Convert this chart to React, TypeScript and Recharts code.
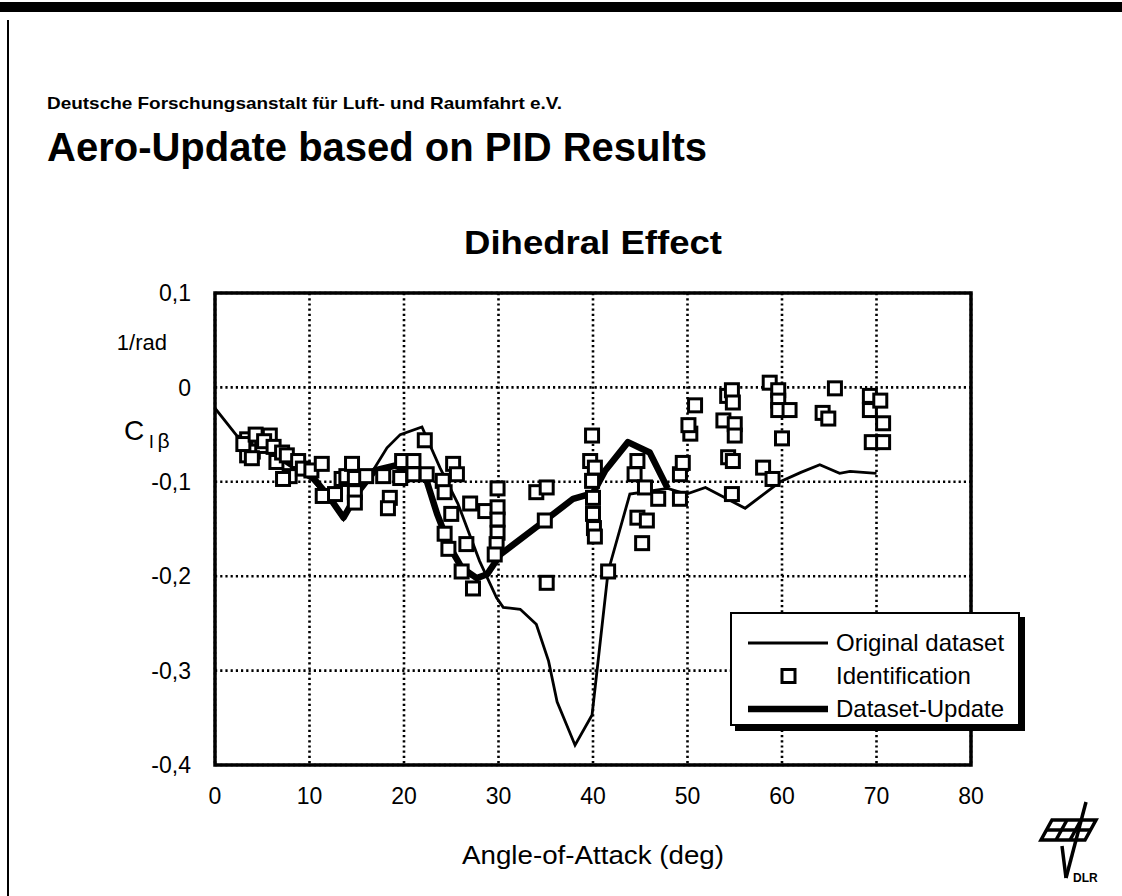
import React from "react";
import {
  ComposedChart,
  Line,
  Scatter,
  XAxis,
  YAxis,
  CartesianGrid,
  ReferenceArea,
  Legend,
} from "recharts";

const xTicks = [0, 10, 20, 30, 40, 50, 60, 70, 80];
const yTicks = [0.1, 0, -0.1, -0.2, -0.3, -0.4];

// original dataset (thin line)
const origAlpha = [
  0, 2.3, 4, 6, 8, 10, 12, 13.6, 15.2, 16.9, 18.2, 19.6, 21.9, 23.8, 25.7, 28,
  29.8, 30.5, 32.3, 34, 35.3, 36.2, 38.1, 39.9, 41.6, 43.9, 47.9, 49.9, 51.9,
  56.1, 59.8, 62, 64, 66.1, 67.2, 70,
];
const origClb = [
  -0.022, -0.051, -0.058, -0.068, -0.082, -0.095, -0.117, -0.14, -0.112,
  -0.085, -0.064, -0.05, -0.042, -0.085, -0.123, -0.184, -0.223, -0.233,
  -0.235, -0.251, -0.29, -0.333, -0.379, -0.347, -0.195, -0.113, -0.107,
  -0.113, -0.106, -0.128, -0.1, -0.09, -0.082, -0.091, -0.089, -0.091,
];

// dataset update (thick line)
const updAlpha = [
  3, 4.5, 6, 7.5, 9, 10.5, 12, 13.6, 15.2, 16.9, 19, 20.5, 22.4, 23.5, 24.9,
  26.1, 27.7, 28.8, 30.2, 34.4, 37.9, 40, 41.3, 43.7, 46, 47.9,
];
const updClb = [
  -0.055, -0.062, -0.068, -0.078, -0.088, -0.097, -0.115, -0.138, -0.11,
  -0.088, -0.083, -0.087, -0.099, -0.134, -0.17, -0.191, -0.202, -0.198,
  -0.177, -0.145, -0.118, -0.112, -0.088, -0.058, -0.069, -0.107,
];

// identification results (squares)
const idAlpha = [
  3.4, 3.7, 3.4, 4.6, 5.8, 4.0, 5.0, 3.0, 4.3, 5.2, 6.2, 3.9, 6.5, 7.1, 7.6,
  8.8, 7.9, 7.2, 9.3, 10.2, 11.3, 11.4, 12.7, 13.4, 13.9, 14.5, 14.8, 14.8,
  14.8, 16.0, 17.8, 18.5, 18.3, 19.6, 19.8, 21.0, 21.0, 22.4, 22.2, 24.1, 25.2,
  25.6, 24.3, 25.0, 24.3, 24.7, 26.1, 27.3, 27.0, 28.6, 26.6, 29.9, 29.9, 29.9,
  29.9, 29.8, 29.6, 34.0, 35.1, 34.9, 35.1, 39.9, 39.7, 40.2, 39.9, 40.0, 40.0,
  40.1, 40.2, 41.6, 44.7, 44.4, 45.5, 46.9, 44.7, 45.7, 45.2, 49.2, 49.2, 49.5,
  50.3, 50.1, 50.8, 54.7, 54.2, 54.7, 54.8, 53.8, 55.0, 55.0, 54.3, 54.8, 58.0,
  59.0, 58.7, 59.6, 59.6, 59.6, 60.8, 60.0, 65.6, 64.3, 64.9, 69.3, 69.3, 70.4,
  70.7, 69.5, 70.7,
];
const idClb = [
  -0.055, -0.064, -0.072, -0.058, -0.051, -0.068, -0.062, -0.06, -0.05,
  -0.057, -0.063, -0.075, -0.079, -0.069, -0.072, -0.078, -0.094, -0.097,
  -0.086, -0.088, -0.081, -0.115, -0.113, -0.097, -0.094, -0.081, -0.096,
  -0.111, -0.122, -0.094, -0.094, -0.117, -0.128, -0.096, -0.078, -0.078,
  -0.092, -0.092, -0.056, -0.099, -0.081, -0.092, -0.111, -0.134, -0.155,
  -0.171, -0.195, -0.213, -0.123, -0.131, -0.166, -0.107, -0.127, -0.14,
  -0.154, -0.166, -0.177, -0.111, -0.106, -0.141, -0.207, -0.051, -0.078,
  -0.085, -0.099, -0.117, -0.134, -0.149, -0.158, -0.195, -0.078, -0.092,
  -0.106, -0.118, -0.138, -0.141, -0.165, -0.118, -0.092, -0.08, -0.049,
  -0.04, -0.019, -0.113, -0.009, -0.003, -0.016, -0.035, -0.039, -0.051,
  -0.074, -0.078, -0.085, -0.097, 0.005, -0.003, -0.014, -0.024, -0.024,
  -0.054, -0.001, -0.027, -0.033, -0.009, -0.024, -0.014, -0.038, -0.058,
  -0.058,
];

const FONT = '"Liberation Sans", Arial, Helvetica, sans-serif';

const toPoints = (xs: number[], ys: number[]) =>
  xs.map((x, i) => ({ x, y: ys[i] }));

const origData = toPoints(origAlpha, origClb);
const updData = toPoints(updAlpha, updClb);
const idData = toPoints(idAlpha, idClb);

const SquareMark = (props: any) => {
  const { cx, cy } = props;
  if (cx == null || cy == null) return null;
  return (
    <rect
      x={cx - 6.5}
      y={cy - 6.5}
      width={13}
      height={13}
      fill="#fff"
      stroke="#000"
      strokeWidth={3}
    />
  );
};

const legendRows = [
  { label: "Original dataset", kind: "thin" },
  { label: "Identification", kind: "square" },
  { label: "Dataset-Update", kind: "thick" },
];

const LegendBox = () => (
  <div
    style={{
      boxSizing: "border-box",
      width: 290,
      height: 114,
      border: "2px solid #000",
      boxShadow: "5px 5px 0 #000",
      background: "#fff",
      fontFamily: FONT,
      fontSize: 24,
      color: "#000",
      paddingTop: 12,
    }}
  >
    {legendRows.map((r) => (
      <div
        key={r.label}
        style={{ display: "flex", alignItems: "center", height: 33 }}
      >
        <svg width={104} height={20}>
          {r.kind === "square" ? (
            <rect x={50} y={3.5} width={13} height={13} fill="#fff" stroke="#000" strokeWidth={3} />
          ) : (
            <line
              x1={16}
              x2={96}
              y1={10}
              y2={10}
              stroke="#000"
              strokeWidth={r.kind === "thick" ? 6.5 : 2.8}
            />
          )}
        </svg>
        <span style={{ lineHeight: 1 }}>{r.label}</span>
      </div>
    ))}
  </div>
);

const fmt = (v: number) => String(v).replace(".", ",");

export default function App() {
  return (
    <div
      style={{
        position: "absolute",
        left: 0,
        top: 0,
        width: 1122,
        height: 896,
        background: "#fff",
        overflow: "hidden",
      }}
    >
      <svg
        width={1122}
        height={896}
        style={{ position: "absolute", left: 0, top: 0 }}
        fontFamily={FONT}
      >
        <rect x={0} y={2} width={1122} height={10} fill="#000" />
        <rect x={7} y={20} width={2} height={876} fill="#000" />
        <text x={47} y={109} fontSize={17} fontWeight="bold" textLength={515} lengthAdjust="spacingAndGlyphs">
          Deutsche Forschungsanstalt für Luft- und Raumfahrt e.V.
        </text>
        <text x={47} y={161} fontSize={40} fontWeight="bold">
          Aero-Update based on PID Results
        </text>
        <text x={593} y={254} fontSize={34} fontWeight="bold" textAnchor="middle" textLength={258} lengthAdjust="spacingAndGlyphs">
          Dihedral Effect
        </text>
        <text x={593} y={864} fontSize={26} textAnchor="middle" textLength={262} lengthAdjust="spacingAndGlyphs">
          Angle-of-Attack (deg)
        </text>
        <text x={167} y={350} fontSize={22} textAnchor="end">
          1/rad
        </text>
        <text x={124} y={440} fontSize={28}>
          C
          <tspan fontSize={19} dx={5} dy={8}>l</tspan>
          <tspan fontSize={21} dx={4}>β</tspan>
        </text>
        {/* DLR logo */}
        <g stroke="#000" strokeWidth={3.5} fill="none">
          <polygon points="1052,820 1096,820 1085,840 1041,840" />
          <line x1={1067} y1={820} x2={1056} y2={840} />
          <line x1={1081} y1={820} x2={1070} y2={840} />
          <line x1={1046} y1={830} x2={1091} y2={830} />
          <line x1={1086} y1={802} x2={1066} y2={878} />
          <line x1={1066} y1={878} x2={1062} y2={846} />
        </g>
        <text x={1073} y={882} fontSize={12} fontWeight="bold">
          DLR
        </text>
      </svg>
      <div style={{ position: "absolute", left: 0, top: 0 }}>
        <ComposedChart
          width={1122}
          height={896}
          margin={{ top: 293, right: 151, bottom: 91, left: 135 }}
        >
          <CartesianGrid stroke="#000" strokeWidth={2.6} strokeDasharray="2.2 3" />
          <XAxis
            type="number"
            dataKey="x"
            domain={[0, 80]}
            ticks={xTicks}
            interval={0}
            allowDataOverflow
            axisLine={false}
            tickLine={false}
            tickSize={0}
            tickMargin={23}
            height={40}
            tick={{ fill: "#000", fontSize: 23, fontFamily: FONT }}
          />
          <YAxis
            type="number"
            dataKey="y"
            domain={[-0.4, 0.1]}
            ticks={yTicks}
            interval={0}
            allowDataOverflow
            axisLine={false}
            tickLine={false}
            tickSize={0}
            tickMargin={24}
            width={80}
            tickFormatter={fmt}
            tick={{ fill: "#000", fontSize: 23, fontFamily: FONT }}
          />
          <Line
            data={updData}
            dataKey="y"
            name="Dataset-Update"
            type="linear"
            stroke="#000"
            strokeWidth={6.5}
            strokeLinejoin="round"
            dot={false}
            activeDot={false}
            isAnimationActive={false}
          />
          <Line
            data={origData}
            dataKey="y"
            name="Original dataset"
            type="linear"
            stroke="#000"
            strokeWidth={2.8}
            dot={false}
            activeDot={false}
            isAnimationActive={false}
          />
          <Scatter
            data={idData}
            dataKey="y"
            name="Identification"
            shape={SquareMark}
            isAnimationActive={false}
          />
          <ReferenceArea
            x1={0}
            x2={80}
            y1={-0.4}
            y2={0.1}
            fill="none"
            fillOpacity={0}
            stroke="#000"
            strokeWidth={3.5}
          />
          <Legend
            layout="horizontal"
            verticalAlign="middle"
            align="center"
            wrapperStyle={{ position: "absolute", left: 730, top: 612, width: 296, height: 120 }}
            content={LegendBox}
          />
        </ComposedChart>
      </div>
    </div>
  );
}
